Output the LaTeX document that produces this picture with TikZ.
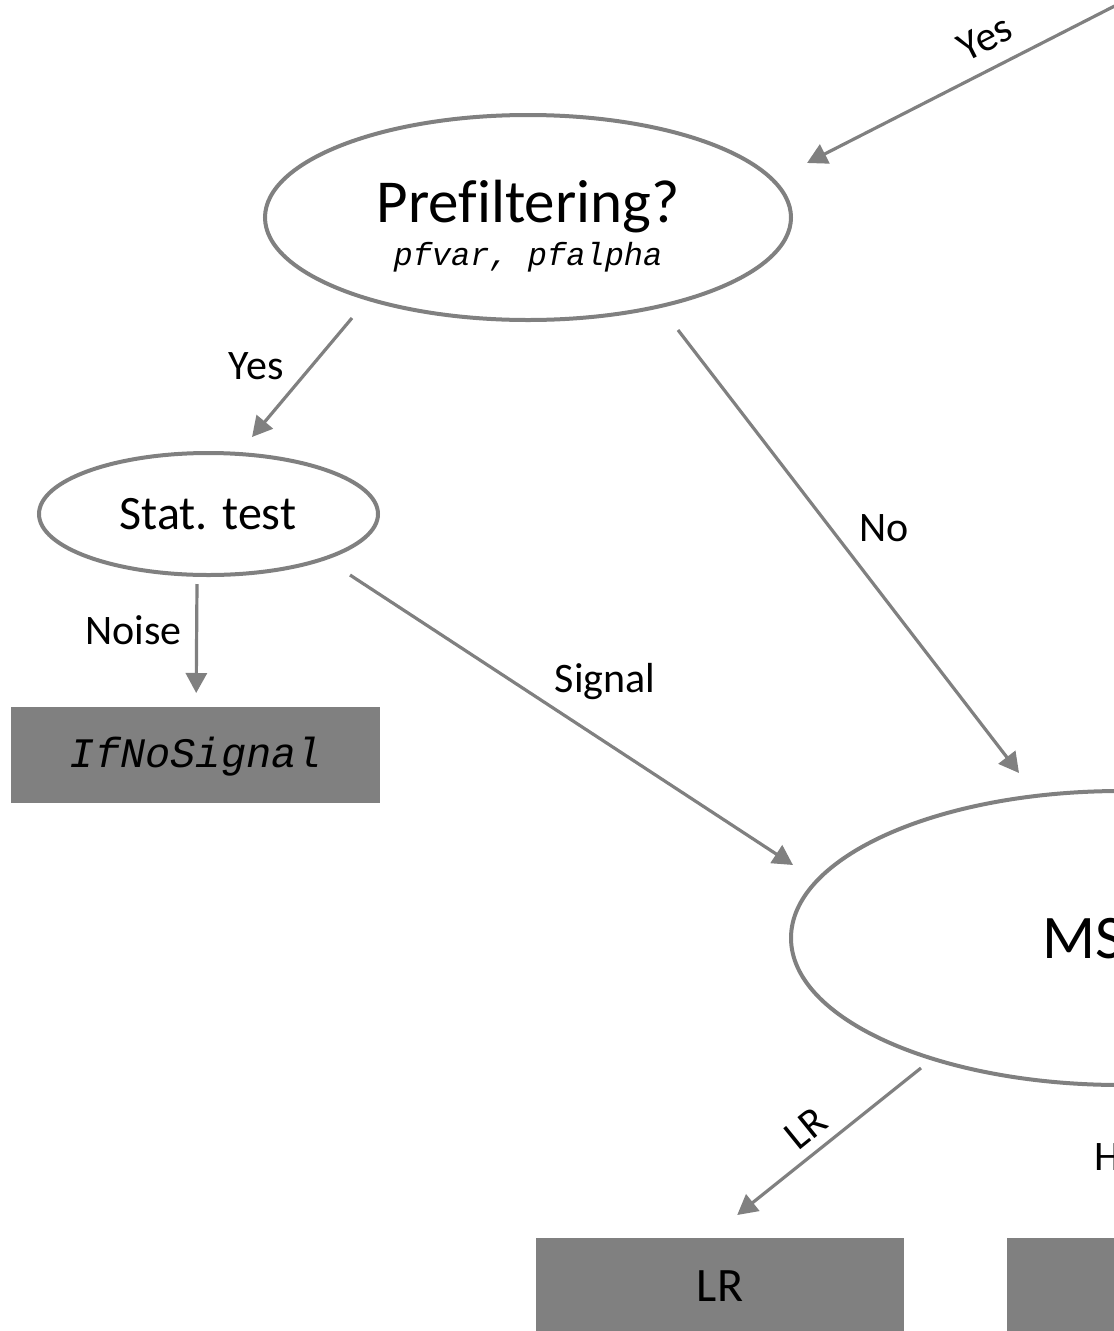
\documentclass[tikz,border=0pt]{standalone}
\usepackage{fontspec}
\setmainfont{Carlito}[Ligatures=CommonOff]
\setmonofont{Liberation Mono}
\usetikzlibrary{arrows.meta,shapes.geometric,calc}
\definecolor{linegray}{HTML}{808080}
\definecolor{boxgray}{HTML}{808080}
\begin{document}
\begin{tikzpicture}[x=1pt,y=-1pt,
  oval/.style={ellipse, draw=linegray, line width=4pt, fill=white, inner sep=0pt},
  outbox/.style={rectangle, fill=boxgray, inner sep=0pt, anchor=north west},
  conn/.style={draw=linegray, line width=3.2pt, -{Triangle[length=20pt,width=21pt]}},
  lbl/.style={font=\fontsize{42}{50}\selectfont, anchor=base, inner sep=0pt},
  bigtxt/.style={font=\fontsize{61}{70}\selectfont, anchor=base, inner sep=0pt},
  midtxt/.style={font=\fontsize{48}{56}\selectfont, anchor=base, inner sep=0pt},
  codetxt/.style={font=\fontsize{32}{38}\selectfont\ttfamily\itshape, anchor=base, inner sep=0pt},
  boxcode/.style={font=\fontsize{42}{50}\selectfont\ttfamily\itshape, anchor=base, inner sep=0pt},
]
\useasboundingbox (0,0) rectangle (1114,1331);
\clip (0,0) rectangle (1114,1331);

% nodes
\node[oval, minimum width=526pt, minimum height=205pt] (pre) at (528,217.5) {};
\node[oval, minimum width=339pt, minimum height=122pt] (stat) at (208.5,514) {};
\node[oval, minimum width=660pt, minimum height=294pt] (ms) at (1121,938) {};
\node[outbox, minimum width=369pt, minimum height=96pt] (ifno) at (11,707) {};
\node[outbox, minimum width=368pt, minimum height=100pt] (lrbox) at (536,1238) {};
\node[outbox, minimum width=368pt, minimum height=100pt] (hbox) at (1007,1238) {};

% node texts
\node[bigtxt] (pretxt) at (528,222) {Prefiltering?};
\node[codetxt] (preargs) at (528,265) {pfvar, pfalpha};
\node[midtxt] (stattxt) at (208,529) {Stat. test};
\node[font=\fontsize{62}{70}\selectfont, anchor=base west, inner sep=0pt] (mstxt) at (1042,958) {MS};
\node[boxcode] (ifnotxt) at (196,767) {IfNoSignal};
\node[midtxt] (lrtxt) at (720,1301) {LR};

% connector end points
\coordinate (topsrc) at (1146,-10);
\coordinate (a0e) at ($(pre.center)+(279,-54.5)$);
\coordinate (a1s) at ($(pre.center)+(-176,100.5)$);
\coordinate (a1e) at ($(stat.center)+(43.5,-77)$);
\coordinate (a2s) at ($(pre.center)+(150,112.5)$);
\coordinate (a2e) at ($(ms.center)+(-102,-165)$);
\coordinate (a3s) at ($(stat.center)+(-11.5,70)$);
\coordinate (a3e) at ($(ifno.north)+(0.5,-14)$);
\coordinate (a4s) at ($(stat.center)+(141.5,61)$);
\coordinate (a4e) at ($(ms.center)+(-328,-73)$);
\coordinate (a5s) at ($(ms.center)+(-200,130)$);
\coordinate (a5e) at ($(lrbox.north)+(17,-23)$);

% connectors
\draw[conn] (topsrc) -- (a0e);
\draw[conn] (a1s) -- (a1e);
\draw[conn] (a2s) -- (a2e);
\draw[conn] (a3s) -- (a3e);
\draw[conn] (a4s) -- (a4e);
\draw[conn] (a5s) -- (a5e);

% connector labels
\node[lbl, anchor=center, rotate=27] (l0) at (985,38) {Yes};
\node[lbl] (l1) at (256,379) {Yes};
\node[lbl] (l2) at (884,541) {No};
\node[lbl] (l3) at (133.5,644) {Noise};
\node[lbl] (l4) at (605,692) {Signal};
\node[lbl, anchor=center, rotate=39] (l5) at (806,1128) {LR};
\node[lbl, anchor=base west] (l6) at (1094,1170) {H};
\end{tikzpicture}
\end{document}
